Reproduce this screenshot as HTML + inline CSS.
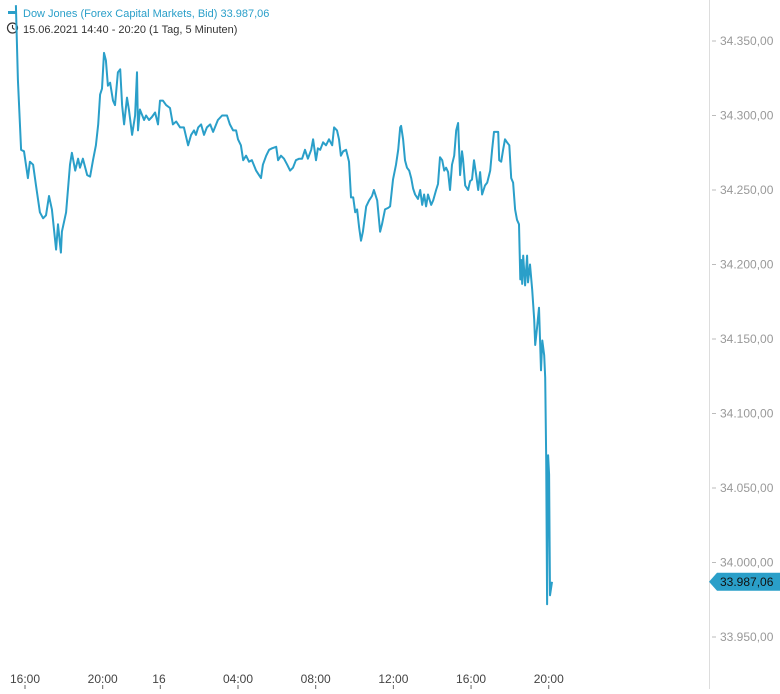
<!DOCTYPE html>
<html><head><meta charset="utf-8"><style>
body{margin:0;background:#fff;font-family:"Liberation Sans",sans-serif}
svg text{font-family:"Liberation Sans",sans-serif}
</style></head><body>
<svg id="chart" width="780" height="689" xmlns="http://www.w3.org/2000/svg">
<g id="legend">
<rect x="8" y="11" width="9" height="3" fill="#2a9fc9"/>
<text x="23" y="17" font-size="11" fill="#2a9fc9">Dow Jones (Forex Capital Markets, Bid)  33.987,06</text>
<circle cx="12.5" cy="28" r="5" fill="none" stroke="#333" stroke-width="1.2"/>
<path d="M12.5 25 V28 L14.5 29.5" fill="none" stroke="#333" stroke-width="1.1"/>
<text x="23" y="33" font-size="11" fill="#333">15.06.2021 14:40 - 20:20   (1 Tag, 5 Minuten)</text>
</g>
<line x1="709.5" y1="0" x2="709.5" y2="689" stroke="#ddd"/>
<g id="yaxis"></g>
<g id="xaxis"></g>
<path id="line" fill="none" stroke="#2a9fc9" stroke-width="2" stroke-linejoin="round"/>
<g>
<path id="lastbox" fill="#2a9fc9"/>
<text id="lasttext" x="720" font-size="12" fill="#111"></text>
</g>
</svg>
<script>
const times=[-28,-22,-12,-3,9,15,25,34,46,56,65,74,83,96,102,111,114,127,139,145,155,164,170,179,192,201,210,219,226,232,238,244,250,256,263,272,278,287,294,300,306,315,321,331,340,346,349,355,368,374,383,392,402,411,417,426,436,448,457,467,479,491,504,513,522,528,535,544,553,562,572,581,596,609,624,633,643,652,658,667,674,683,692,701,714,723,729,735,745,754,763,776,782,791,800,810,819,828,837,847,856,865,874,884,890,899,905,912,921,930,939,949,955,964,970,976,983,992,1001,1007,1014,1020,1026,1032,1038,1044,1054,1063,1072,1078,1088,1097,1103,1112,1122,1128,1137,1146,1153,1159,1162,1168,1174,1180,1187,1193,1199,1205,1214,1221,1227,1233,1239,1245,1255,1261,1270,1276,1282,1289,1295,1301,1307,1313,1319,1326,1332,1338,1344,1350,1353,1360,1369,1375,1381,1387,1394,1400,1406,1412,1421,1428,1437,1443,1449,1455,1462,1465,1471,1477,1483,1489,1496,1502,1508,1514,1520,1526,1530,1533,1536,1539,1545,1551,1554,1560,1567,1573,1576,1582,1588,1594,1598,1604,1607,1610,1613,1616,1619,1622,1628];
const values=[34374,34324,34277,34276,34258,34269,34267,34253,34235,34231,34233,34246,34237,34210,34227,34208,34222,34235,34267,34275,34263,34271,34265,34271,34260,34259,34270,34280,34294,34314,34318,34342,34337,34320,34322,34310,34307,34329,34331,34307,34294,34312,34304,34287,34300,34329,34290,34304,34297,34300,34297,34299,34302,34294,34310,34310,34307,34305,34294,34296,34292,34292,34280,34287,34290,34287,34292,34294,34287,34292,34294,34289,34297,34300,34300,34294,34290,34290,34284,34280,34270,34273,34269,34270,34263,34260,34258,34267,34273,34277,34278,34279,34270,34273,34271,34267,34263,34265,34270,34271,34271,34277,34271,34277,34284,34270,34278,34277,34282,34280,34284,34280,34292,34290,34284,34273,34276,34277,34269,34245,34245,34235,34237,34225,34216,34222,34239,34243,34246,34250,34243,34222,34227,34237,34238,34239,34257,34267,34277,34292,34293,34284,34270,34265,34263,34258,34251,34247,34244,34250,34240,34247,34239,34247,34240,34243,34250,34254,34272,34270,34263,34265,34262,34250,34267,34273,34290,34295,34260,34276,34271,34253,34250,34256,34257,34270,34260,34250,34262,34247,34253,34255,34263,34277,34289,34289,34289,34270,34269,34277,34284,34282,34280,34258,34255,34237,34230,34227,34190,34203,34187,34206,34186,34206,34188,34200,34183,34163,34146,34158,34171,34129,34149,34139,34124,34069,33972,34072,34059,33978,33987.06];
const yTicks=[34350,34300,34250,34200,34150,34100,34050,34000,33950];
const xTickLabels=["16:00","20:00","16","04:00","08:00","12:00","16:00","20:00"];
const xTickTimes=[0,240,418,658,898,1138,1378,1618];
const lastValue=33987.06;
function yScale(v){return 41+(34350-v)*1.49;}
function xScale(m){return 25+m*0.3237;}
const NS="http://www.w3.org/2000/svg";
function fmt(v){const s=v.toFixed(2).split('.');return s[0].replace(/\B(?=(\d{3})+(?!\d))/g,'.')+','+s[1];}
const ya=document.getElementById('yaxis');
yTicks.forEach(v=>{const y=yScale(v);
const l=document.createElementNS(NS,'line');


l.setAttribute('x1',712);l.setAttribute('x2',716);l.setAttribute('y1',y);l.setAttribute('y2',y);l.setAttribute('stroke','#bbb');ya.appendChild(l);
const t=document.createElementNS(NS,'text');


t.setAttribute('x',720);t.setAttribute('y',y+4);t.setAttribute('font-size','12');t.setAttribute('fill','#999');t.textContent=fmt(v);ya.appendChild(t);});
const xa=document.getElementById('xaxis');
xTickLabels.forEach((lab,i)=>{const x=xScale(xTickTimes[i]);
const l=document.createElementNS(NS,'line');


l.setAttribute('x1',x);l.setAttribute('x2',x);l.setAttribute('y1',685);l.setAttribute('y2',689);l.setAttribute('stroke','#666');xa.appendChild(l);
const t=document.createElementNS(NS,'text');


t.setAttribute('x',lab.length<3?x-8:x);t.setAttribute('y',683);t.setAttribute('font-size','12');t.setAttribute('fill','#444');t.setAttribute('text-anchor',lab.length<3?'start':'middle');t.textContent=lab;xa.appendChild(t);});
let d='';times.forEach((m,i)=>{d+=(i?'L':'M')+xScale(m).toFixed(1)+' '+yScale(values[i]).toFixed(1);});
document.getElementById('line').setAttribute('d',d);
const ly=yScale(lastValue);
document.getElementById('lastbox').setAttribute('d',`M709 ${ly} L717 ${ly-9} H780 V${ly+9} H717 Z`);
const lt=document.getElementById('lasttext');lt.setAttribute('y',ly+4);lt.textContent=fmt(lastValue);
</script>
</body></html>
